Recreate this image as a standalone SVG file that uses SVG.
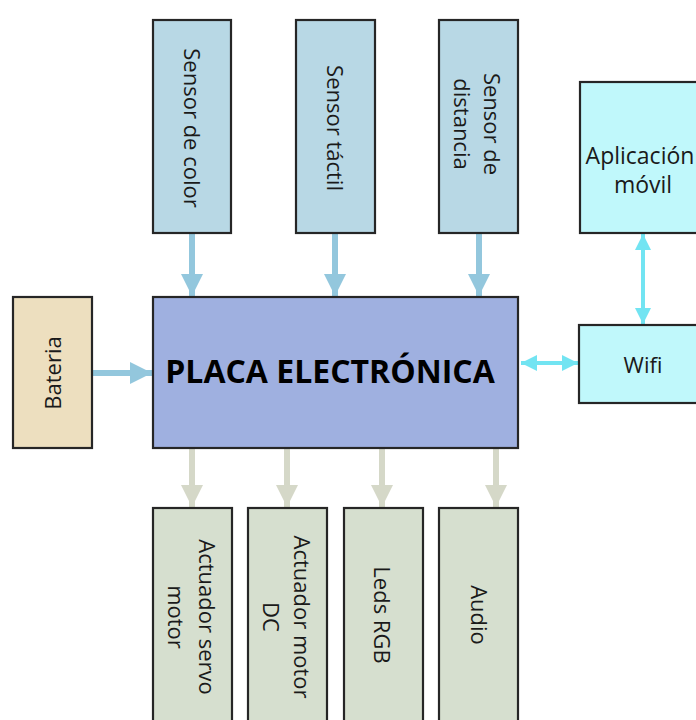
<svg xmlns="http://www.w3.org/2000/svg" width="696" height="720" viewBox="0 0 696 720">
<defs>
<style>
.box{stroke:#262626;stroke-width:2.2}
.sensor{fill:#b8d8e5}
.main{fill:#9fb0e0}
.bat{fill:#eddfbf}
.net{fill:#c0f8fb}
.act{fill:#d6dfcf}
text{font-family:"Open Sans","Noto Sans","DejaVu Sans",sans-serif;font-size:22px;fill:#1a1a1a;text-anchor:middle;dominant-baseline:central}
.big{font-size:32px;font-weight:bold;fill:#000}
.a-blue{stroke:#93c7dd;stroke-width:6;fill:none}
.a-grey{stroke:#d5d8c8;stroke-width:6;fill:none}
.a-cyan{stroke:#72e4f2;stroke-width:4;fill:none}
</style>
<marker id="hb" markerUnits="userSpaceOnUse" markerWidth="24" markerHeight="22" refX="22" refY="11" orient="auto"><path d="M0,0 L22,11 L0,22 Z" fill="#93c7dd"/></marker>
<marker id="hg" markerUnits="userSpaceOnUse" markerWidth="24" markerHeight="22" refX="22" refY="11" orient="auto"><path d="M0,0 L22,11 L0,22 Z" fill="#d5d8c8"/></marker>
<marker id="hc" markerUnits="userSpaceOnUse" markerWidth="18" markerHeight="16" refX="16" refY="8" orient="auto-start-reverse"><path d="M0,0 L16,8 L0,16 Z" fill="#72e4f2"/></marker>
</defs>
<rect width="696" height="720" fill="#ffffff"/>

<g id="connectors">
<path class="a-blue" d="M192,233 V296" marker-end="url(#hb)"/>
<path class="a-blue" d="M335,233 V296" marker-end="url(#hb)"/>
<path class="a-blue" d="M479,233 V296" marker-end="url(#hb)"/>
<path class="a-blue" d="M92,373 H152" marker-end="url(#hb)"/>
<path class="a-grey" d="M192,449 V507" marker-end="url(#hg)"/>
<path class="a-grey" d="M287,449 V507" marker-end="url(#hg)"/>
<path class="a-grey" d="M382,449 V507" marker-end="url(#hg)"/>
<path class="a-grey" d="M496,449 V507" marker-end="url(#hg)"/>
<path class="a-cyan" d="M521,363 H578" marker-start="url(#hc)" marker-end="url(#hc)"/>
<path class="a-cyan" d="M643,234 V324" marker-start="url(#hc)" marker-end="url(#hc)"/>
</g>

<g id="sensor-color">
<rect class="box sensor" x="153" y="20" width="78" height="213"/>
<text transform="translate(193,128) rotate(90)">Sensor de color</text>
</g>
<g id="sensor-tactil">
<rect class="box sensor" x="296" y="20" width="79" height="213"/>
<text transform="translate(336,128) rotate(90)">Sensor táctil</text>
</g>
<g id="sensor-distancia">
<rect class="box sensor" x="439" y="20" width="79" height="213"/>
<text transform="translate(493,124) rotate(90)">Sensor de</text>
<text transform="translate(463,124) rotate(90)">distancia</text>
</g>

<g id="aplicacion">
<rect class="box net" x="580" y="82" width="130" height="151"/>
<text x="640" y="155" style="font-size:23px">Aplicación</text>
<text x="643" y="184" style="font-size:23px">móvil</text>
</g>

<g id="bateria">
<rect class="box bat" x="13" y="297" width="79" height="151"/>
<text transform="translate(52,373) rotate(-90)">Bateria</text>
</g>

<g id="placa">
<rect class="box main" x="153" y="297" width="365" height="151"/>
<text class="big" x="330" y="370">PLACA ELECTRÓNICA</text>
</g>

<g id="wifi">
<rect class="box net" x="579" y="325" width="130" height="78"/>
<text x="643" y="364">Wifi</text>
</g>

<g id="servo">
<rect class="box act" x="153" y="508" width="79" height="216"/>
<text transform="translate(208,617) rotate(90)">Actuador servo</text>
<text transform="translate(177,617) rotate(90)">motor</text>
</g>
<g id="motor-dc">
<rect class="box act" x="248" y="508" width="79" height="216"/>
<text transform="translate(303,617) rotate(90)">Actuador motor</text>
<text transform="translate(272,617) rotate(90)">DC</text>
</g>
<g id="leds">
<rect class="box act" x="344" y="508" width="79" height="216"/>
<text transform="translate(383,615) rotate(90)">Leds RGB</text>
</g>
<g id="audio">
<rect class="box act" x="439" y="508" width="79" height="216"/>
<text transform="translate(480,615) rotate(90)">Audio</text>
</g>
</svg>
